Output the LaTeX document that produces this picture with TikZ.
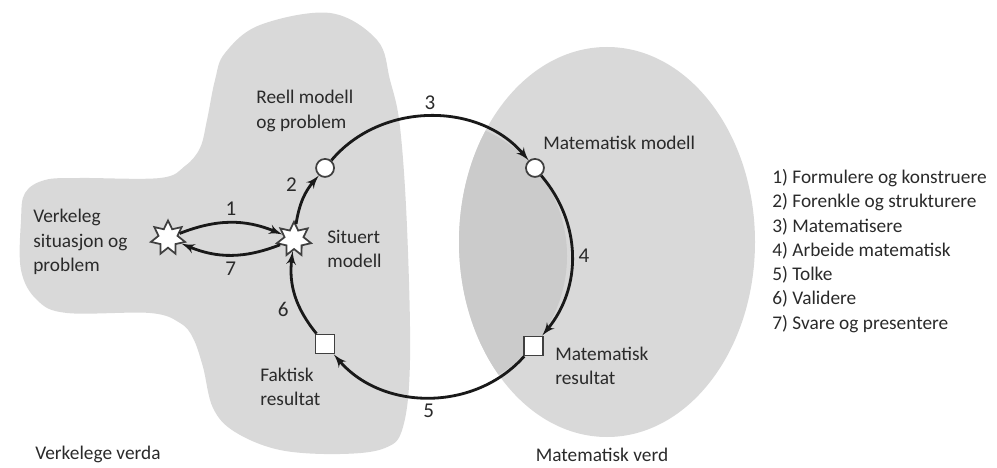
\documentclass[tikz,border=0pt]{standalone}
\usepackage{fontspec}
\setmainfont{Carlito}
\usepackage{tikz}
\usetikzlibrary{arrows, calc, shapes.geometric, positioning}
\definecolor{blobgray}{HTML}{D9D9D9}
\definecolor{overlapgray}{HTML}{CBCBCB}
\definecolor{inkgray}{HTML}{2A2A2A}

\begin{document}
\begin{tikzpicture}[x=0.02cm,y=0.02cm,inner sep=0pt,>=latex',
  txt/.style={font=\fontsize{11}{14}\selectfont,text=inkgray,align=left,anchor=west},
  num/.style={font=\fontsize{12}{14}\selectfont,text=inkgray,inner sep=3pt},
  stella/.style={draw=black!75,fill=white,star,star points=7,star point ratio=1.8,minimum size=0.7cm,line width=1pt},
  rund/.style={draw=black!75,fill=white,circle,minimum size=0.36cm,line width=1pt},
  firkant/.style={draw=black!75,fill=white,rectangle,minimum size=0.38cm,line width=1pt},
  pil/.style={->,line width=1.6pt,black!90}]
\useasboundingbox (0,0) rectangle (997,467);

% verkelege verda
\fill [blobgray] plot [smooth cycle, tension=0.6] coordinates {
  (330,454) (377,427) (390,387) (400,340) (407,240) (410,107) (403,40) (385,19)
  (340,13) (280,17) (235,35) (213,59) (203,100) (193,129) (180,144) (150,154)
  (67,154) (37,167) (21,197) (21,247) (25,274) (45,287) (80,289) (160,289)
  (185,301) (200,319) (207,347) (215,387) (225,414) (260,442)};

% matematisk verd
\fill [blobgray] (607,225) ellipse [x radius=148, y radius=195];
\begin{scope}
  \clip (607,225) ellipse [x radius=148, y radius=195];
  \fill [overlapgray] (430,211) circle [radius=137];
\end{scope}

\coordinate (sentrum) at (430,211);

\draw node [stella] (verkeleg) at (168,229) {};
\draw node [stella] (situert) at ($(sentrum)+(173:137)$) {};
\draw node [rund] (reell) at ($(sentrum)+(140:137)$) {};
\draw node [rund] (matmod) at ($(sentrum)+(40:137)$) {};
\draw node [firkant] (matres) at ($(sentrum)+(-41:137)$) {};
\draw node [firkant] (faktisk) at ($(sentrum)+(220:137)$) {};

\draw [pil] (verkeleg) to [bend left=22] node [num, auto] {1} (situert);
\draw [pil] (situert) to [bend left=22] node [num, auto] {7} (verkeleg);
\draw [pil] (situert) to [bend left=16] node [num, auto] {2} (reell);
\draw [pil] (reell) to [bend left=50] node [num, auto] {3} (matmod);
\draw [pil] (matmod) to [bend left=40] node [num, auto] {4} (matres);
\draw [pil] (matres) to [bend left=49] node [num, auto] {5} (faktisk);
\draw [pil] (faktisk) to [bend left=23] node [num, auto] {6} (situert);

\node [txt] (verkelegtxt) at (33,225) {Verkeleg\\situasjon og\\problem};
\node [txt] (reelltxt) at (256,356) {Reell modell\\og problem};
\node [txt] (situerttxt) at (327,218) {Situert\\modell};
\node [txt] (faktisktxt) at (260,80) {Faktisk\\resultat};
\node [txt] (matmodtxt) at (543,324) {Matematisk modell};
\node [txt] (matrestxt) at (555,101) {Matematisk\\resultat};
\node [txt] (verdaL) at (35,13) {Verkelege verda};
\node [txt, anchor=center] (verdaR) at (602,12) {Matematisk verd};

\node [txt, font=\fontsize{11}{13.8}\selectfont] (liste) at (772,216) {1) Formulere og konstruere\\2) Forenkle og strukturere\\3) Matematisere\\4) Arbeide matematisk\\5) Tolke\\6) Validere\\7) Svare og presentere};
\end{tikzpicture}
\end{document}
